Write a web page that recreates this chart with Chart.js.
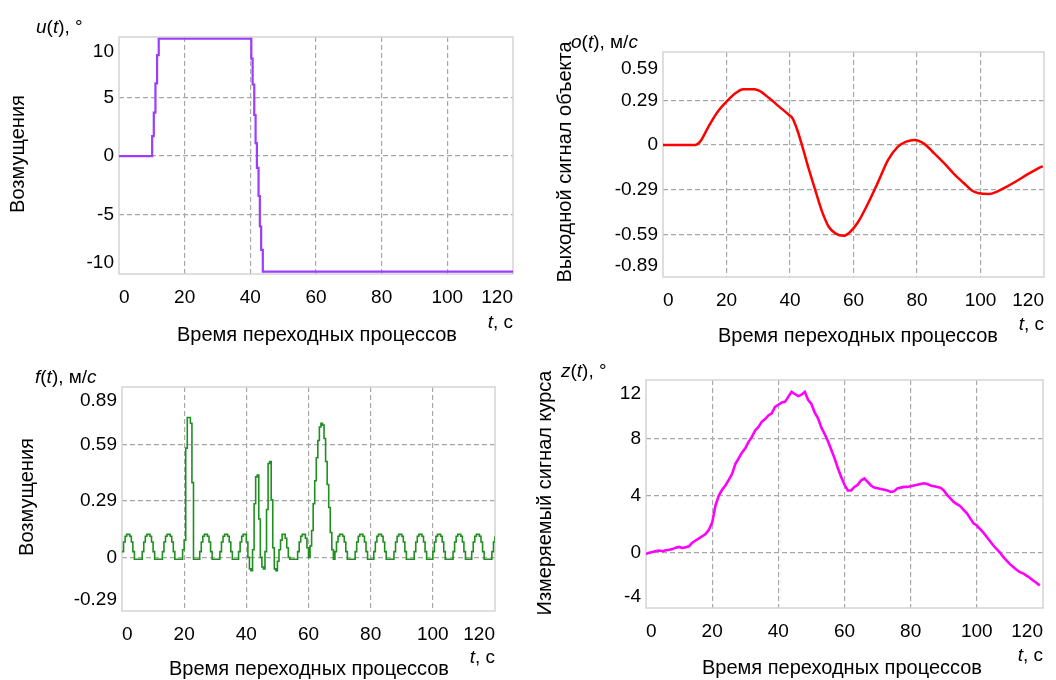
<!DOCTYPE html>
<html>
<head>
<meta charset="utf-8">
<script src="https://cdn.jsdelivr.net/npm/chart.js@4.4.1/dist/chart.umd.min.js"></script>
<style>
  html, body { margin: 0; padding: 0; background: #fff; }
  #wrap { position: relative; width: 1056px; height: 680px; overflow: hidden; }
  canvas { position: absolute; left: 0; top: 0; }
</style>
</head>
<body>
<div id="wrap">
  <canvas id="c1" width="1056" height="680"></canvas>
  <canvas id="c2" width="1056" height="680"></canvas>
  <canvas id="c3" width="1056" height="680"></canvas>
  <canvas id="c4" width="1056" height="680"></canvas>
</div>
<script>
// ---- data ----
const xTicks = [0, 20, 40, 60, 80, 100, 120];
const xTickLabels = ["0", "20", "40", "60", "80", "100", "120"];

// u(t), degrees (stepped)
const uTime  = [0, 10.1, 10.6, 11.1, 11.6, 12.1, 40.3, 40.7, 41.2, 41.6, 42.0, 42.5, 42.9, 43.3, 43.8, 120];
const uValue = [0, 1.7, 3.7, 6.2, 8.6, 10, 8.3, 6.1, 3.5, 1.1, -1.0, -3.4, -6.0, -8.0, -9.85, -9.85];
const uTicks = [10, 5, 0, -5, -10];
const uTickLabels = ["10", "5", "0", "-5", "-10"];

// o(t), m/s
const oTime  = [0, 10.1, 11.7, 14.3, 16.9, 20.0, 23.1, 25.2, 28.8, 30.4, 33.5, 36.6, 39.7, 40.8, 42.3, 43.9,
                46.0, 48.1, 50.1, 52.2, 54.3, 56.9, 59.0, 61.5, 64.6, 67.8, 70.9, 74.0, 76.6, 79.2, 82.3,
                85.4, 88.6, 91.7, 94.8, 97.4, 99.5, 102.6, 105.2, 108.3, 111.4, 114.5, 117.6, 119.6];
const oValue = [0, 0, 0.022, 0.12, 0.21, 0.286, 0.346, 0.368, 0.368, 0.357, 0.308, 0.253, 0.198, 0.176, 0.099, -0.011,
                -0.165, -0.308, -0.44, -0.54, -0.584, -0.6, -0.573, -0.507, -0.385, -0.242, -0.099, -0.011, 0.022, 0.033, 0.007,
                -0.055, -0.121, -0.192, -0.253, -0.302, -0.319, -0.324, -0.308, -0.275, -0.238, -0.198, -0.161, -0.14];
const oTicks = [0.59, 0.295, 0, -0.295, -0.59, -0.885];
const oTickLabels = ["0.59", "0.29", "0", "-0.29", "-0.59", "-0.89"];

// f(t), m/s (stepped, 0.5 s samples)
const fTime = [
  0, 0.5, 1, 1.5, 2, 2.5, 3, 3.5, 4, 4.5,
  5, 5.5, 6, 6.5, 7, 7.5, 8, 8.5, 9, 9.5,
  10, 10.5, 11, 11.5, 12, 12.5, 13, 13.5, 14, 14.5,
  15, 15.5, 16, 16.5, 17, 17.5, 18, 18.5, 19, 19.5,
  20, 20.5, 21, 21.5, 22, 22.5, 23, 23.5, 24, 24.5,
  25, 25.5, 26, 26.5, 27, 27.5, 28, 28.5, 29, 29.5,
  30, 30.5, 31, 31.5, 32, 32.5, 33, 33.5, 34, 34.5,
  35, 35.5, 36, 36.5, 37, 37.5, 38, 38.5, 39, 39.5,
  40, 40.5, 41, 41.5, 42, 42.5, 43, 43.5, 44, 44.5,
  45, 45.5, 46, 46.5, 47, 47.5, 48, 48.5, 49, 49.5,
  50, 50.5, 51, 51.5, 52, 52.5, 53, 53.5, 54, 54.5,
  55, 55.5, 56, 56.5, 57, 57.5, 58, 58.5, 59, 59.5,
  60, 60.5, 61, 61.5, 62, 62.5, 63, 63.5, 64, 64.5,
  65, 65.5, 66, 66.5, 67, 67.5, 68, 68.5, 69, 69.5,
  70, 70.5, 71, 71.5, 72, 72.5, 73, 73.5, 74, 74.5,
  75, 75.5, 76, 76.5, 77, 77.5, 78, 78.5, 79, 79.5,
  80, 80.5, 81, 81.5, 82, 82.5, 83, 83.5, 84, 84.5,
  85, 85.5, 86, 86.5, 87, 87.5, 88, 88.5, 89, 89.5,
  90, 90.5, 91, 91.5, 92, 92.5, 93, 93.5, 94, 94.5,
  95, 95.5, 96, 96.5, 97, 97.5, 98, 98.5, 99, 99.5,
  100, 100.5, 101, 101.5, 102, 102.5, 103, 103.5, 104, 104.5,
  105, 105.5, 106, 106.5, 107, 107.5, 108, 108.5, 109, 109.5,
  110, 110.5, 111, 111.5, 112, 112.5, 113, 113.5, 114, 114.5,
  115, 115.5, 116, 116.5, 117, 117.5, 118, 118.5, 119, 119.5,
  120
];
const fValue = [
  0.03, 0.08, 0.11, 0.12, 0.12, 0.11, 0.08, 0.03, -0.01, -0.01,
  -0.01, -0.01, -0.01, 0.03, 0.08, 0.11, 0.12, 0.12, 0.11, 0.08,
  0.03, -0.01, -0.01, -0.01, -0.01, -0.01, 0.03, 0.08, 0.11, 0.12,
  0.12, 0.11, 0.08, 0.03, -0.01, -0.01, -0.01, -0.01, -0.01, 0.04,
  0.09, 0.57, 0.73, 0.73, 0.70, 0.39, -0.01, -0.01, -0.01, -0.01,
  0.03, 0.08, 0.11, 0.12, 0.12, 0.11, 0.08, 0.03, -0.01, -0.01,
  -0.01, -0.01, -0.01, 0.03, 0.08, 0.11, 0.12, 0.12, 0.11, 0.08,
  0.03, -0.01, -0.01, -0.01, -0.01, 0.03, 0.08, 0.11, 0.12, 0.12,
  0.08, 0.0, -0.06, -0.07, 0.04, 0.28, 0.42, 0.43, 0.20, 0.0,
  -0.05, -0.06, 0.03, 0.25, 0.49, 0.50, 0.30, 0.05, -0.06, -0.07,
  -0.02, 0.04, 0.09, 0.12, 0.12, 0.10, 0.05, 0.0, -0.01, -0.01,
  -0.01, -0.01, -0.01, 0.03, 0.08, 0.11, 0.12, 0.12, 0.10, 0.05,
  0.0, 0.06, 0.14, 0.28, 0.40, 0.52, 0.61, 0.68, 0.70, 0.69,
  0.62, 0.50, 0.38, 0.26, 0.13, 0.04, -0.01, 0.03, 0.08, 0.11,
  0.12, 0.12, 0.11, 0.08, 0.03, -0.01, -0.01, -0.01, -0.01, -0.01,
  0.03, 0.08, 0.11, 0.12, 0.12, 0.11, 0.08, 0.03, -0.01, -0.01,
  -0.01, -0.01, 0.03, 0.08, 0.11, 0.12, 0.12, 0.11, 0.08, 0.03,
  -0.01, -0.01, -0.01, -0.01, -0.01, 0.03, 0.08, 0.11, 0.12, 0.12,
  0.11, 0.08, 0.03, -0.01, -0.01, -0.01, -0.01, -0.01, 0.03, 0.08,
  0.11, 0.12, 0.12, 0.11, 0.08, 0.03, -0.01, -0.01, -0.01, -0.01,
  0.03, 0.08, 0.11, 0.12, 0.12, 0.11, 0.08, 0.03, -0.01, -0.01,
  -0.01, -0.01, -0.01, 0.03, 0.08, 0.11, 0.12, 0.12, 0.11, 0.08,
  0.03, -0.01, -0.01, -0.01, -0.01, 0.03, 0.08, 0.11, 0.12, 0.12,
  0.11, 0.08, 0.03, -0.01, -0.01, -0.01, -0.01, -0.01, 0.03, 0.08,
  0.11
];
const fTicks = [0.885, 0.59, 0.295, 0, -0.295];
const fTickLabels = ["0.89", "0.59", "0.29", "0", "-0.29"];

// z(t), degrees
const zTime = [
  0, 1, 2, 3, 4, 5, 6, 7, 8, 9,
  10, 11, 12, 13, 14, 15, 16, 17, 18, 19,
  20, 21, 22, 23, 24, 25, 26, 27, 28, 29,
  30, 31, 32, 33, 34, 35, 36, 37, 38, 39,
  40, 41, 42, 43, 44, 45, 46, 47, 48, 49,
  50, 51, 52, 53, 54, 55, 56, 57, 58, 59,
  60, 61, 62, 63, 64, 65, 66, 67, 68, 69,
  70, 71, 72, 73, 74, 75, 76, 77, 78, 79,
  80, 81, 82, 83, 84, 85, 86, 87, 88, 89,
  90, 91, 92, 93, 94, 95, 96, 97, 98, 99,
  100, 101, 102, 103, 104, 105, 106, 107, 108, 109,
  110, 111, 112, 113, 114, 115, 116, 117, 118, 119
];
const zValue = [
  -0.1, 0.0, 0.05, 0.12, 0.15, 0.1, 0.17, 0.2, 0.25, 0.35,
  0.4, 0.33, 0.38, 0.45, 0.7, 0.85, 1.0, 1.15, 1.3, 1.6,
  2.1, 3.3, 4.0, 4.4, 4.7, 5.1, 5.5, 6.2, 6.6, 7.0,
  7.3, 7.75, 8.1, 8.55, 8.8, 9.15, 9.35, 9.6, 9.75, 10.2,
  10.35, 10.5, 10.55, 10.9, 11.25, 11.1, 10.95, 11.05, 11.25, 10.7,
  10.4, 9.8, 9.4, 8.75, 8.3, 7.8, 7.2, 6.6, 5.9, 5.3,
  4.75, 4.35, 4.35, 4.6, 4.75, 5.05, 5.2, 4.95, 4.7, 4.55,
  4.5, 4.45, 4.4, 4.35, 4.25, 4.3, 4.5, 4.55, 4.6, 4.6,
  4.65, 4.7, 4.75, 4.8, 4.85, 4.8, 4.7, 4.65, 4.6, 4.55,
  4.35, 4.05, 3.8, 3.55, 3.4, 3.25, 3.0, 2.75, 2.4, 2.05,
  1.9, 1.65, 1.4, 1.1, 0.8, 0.5, 0.25, 0.0, -0.3, -0.55,
  -0.8, -1.0, -1.2, -1.36, -1.45, -1.6, -1.75, -1.95, -2.1, -2.3
];
const zTicks = [12, 8, 4, 0, -4];
const zTickLabels = ["12", "8", "4", "0", "-4"];

// ---- drawing ----
const FONT = '"Liberation Sans", Arial, sans-serif';
Chart.defaults.font.family = FONT;
Chart.defaults.font.size = 19;
Chart.defaults.color = "#000";

const X_AXIS_H = 40;

function fontFor(italic, size) {
  return (italic ? "italic " : "") + (size || 19) + "px " + FONT;
}

function drawRich(ctx, parts, x, y, align) {
  let w = 0;
  parts.forEach(p => { ctx.font = fontFor(p[1]); w += ctx.measureText(p[0]).width; });
  let cx = align === "right" ? x - w : (align === "center" ? x - w / 2 : x);
  ctx.textAlign = "left";
  ctx.textBaseline = "middle";
  parts.forEach(p => {
    ctx.font = fontFor(p[1]);
    ctx.fillText(p[0], cx, y);
    cx += ctx.measureText(p[0]).width;
  });
}

const decor = {
  id: "decor",
  beforeDatasetsDraw(chart, args, o) {
    const a = chart.chartArea, ctx = chart.ctx;
    ctx.save();
    ctx.strokeStyle = "#d4d4d4";
    ctx.lineWidth = 1.5;
    ctx.strokeRect(a.left, a.top, a.right - a.left, a.bottom - a.top);
    ctx.restore();
  },
  afterDraw(chart, args, o) {
    const ctx = chart.ctx, a = chart.chartArea, ys = chart.scales.y;
    ctx.save();
    ctx.fillStyle = "#000";
    ctx.font = fontFor(false);
    ctx.textAlign = "right";
    ctx.textBaseline = "middle";
    const n = o.yTicks.length;
    o.yTicks.forEach((v, i) => {
      let y = ys.getPixelForValue(v);
      if (i === 0) y = Math.max(y, a.top) + 13;
      if (i === n - 1) y = Math.min(y, a.bottom) - 11;
      ctx.fillText(o.yLabels[i], a.left - 5, y);
    });
    // unit label above the y axis
    drawRich(ctx, o.unit, o.unitX, o.unitY, "left");
    // t, c
    drawRich(ctx, [["t", true], [", с", false]], a.right, o.tY, "right");
    // x title
    ctx.font = fontFor(false, 20);
    ctx.textAlign = "center";
    ctx.fillText("Время переходных процессов", o.xTitleX, o.xTitleY);
    // y title
    ctx.translate(o.yTitleX, o.yTitleY);
    ctx.rotate(-Math.PI / 2);
    ctx.fillText(o.yTitle, 0, 0);
    ctx.restore();
  }
};

function toPoints(ts, vs) {
  return ts.map((t, i) => ({ x: t, y: vs[i] }));
}

function makeChart(id, cfg) {
  const nY = cfg.yTicks.length;
  return new Chart(document.getElementById(id), {
    type: "line",
    data: {
      datasets: [{
        data: toPoints(cfg.time, cfg.value),
        borderColor: cfg.color,
        borderWidth: cfg.width,
        pointRadius: 0,
        stepped: cfg.stepped,
        cubicInterpolationMode: cfg.smooth ? "monotone" : "default",
        fill: false
      }]
    },
    options: {
      responsive: false,
      animation: false,
      devicePixelRatio: 1,
      layout: { padding: { left: cfg.area[0], top: cfg.area[1], right: 1056 - cfg.area[2], bottom: 680 - cfg.area[3] - X_AXIS_H } },
      plugins: {
        legend: { display: false },
        tooltip: { enabled: false },
        decor: cfg.decor
      },
      scales: {
        x: {
          type: "linear",
          min: 0,
          max: 120,
          afterBuildTicks: s => { s.ticks = xTicks.map(v => ({ value: v })); },
          afterFit: s => { s.height = X_AXIS_H; },
          border: { display: false, dash: [5, 3] },
          grid: {
            drawTicks: false,
            lineWidth: 1.2,
            color: c => (c.index === 0 || c.index === xTicks.length - 1) ? "rgba(0,0,0,0)" : "#a8a8a8"
          },
          ticks: {
            align: "inner",
            padding: 12,
            autoSkip: false,
            maxRotation: 0,
            color: "#000",
            callback: (v, i) => xTickLabels[i]
          }
        },
        y: {
          type: "linear",
          min: cfg.yMin,
          max: cfg.yMax,
          afterBuildTicks: s => { s.ticks = cfg.yTicks.map(v => ({ value: v })); },
          afterFit: s => { s.width = 0; },
          border: { display: false, dash: [5, 3] },
          grid: {
            drawTicks: false,
            lineWidth: 1.2,
            color: c => (c.index === 0 || c.index === nY - 1) ? "rgba(0,0,0,0)" : "#a8a8a8"
          },
          ticks: { display: false }
        }
      }
    },
    plugins: [decor]
  });
}

makeChart("c1", {
  time: uTime, value: uValue, color: "#9b3cff", width: 2.2, stepped: true, smooth: false,
  area: [119, 37, 513, 274], yMin: -10.05, yMax: 10.15, yTicks: uTicks,
  decor: {
    yTicks: uTicks, yLabels: uTickLabels,
    unit: [["u", true], ["(", false], ["t", true], ["), °", false]], unitX: 36, unitY: 28,
    tY: 323, xTitleX: 317, xTitleY: 335, yTitle: "Возмущения", yTitleX: 18, yTitleY: 154
  }
});
makeChart("c2", {
  time: oTime, value: oValue, color: "#ff0000", width: 2.5, stepped: false, smooth: true,
  area: [663, 52, 1049, 277], yMin: -0.872, yMax: 0.614, yTicks: oTicks,
  decor: {
    yTicks: oTicks, yLabels: oTickLabels,
    unit: [["o", true], ["(", false], ["t", true], ["), м/", false], ["с", true]], unitX: 571, unitY: 43,
    tY: 325, xTitleX: 858, xTitleY: 336, yTitle: "Выходной сигнал объекта", yTitleX: 565, yTitleY: 162
  }
});
makeChart("c3", {
  time: fTime, value: fValue, color: "#1f8f1f", width: 1.6, stepped: true, smooth: false,
  area: [122, 387, 495, 611], yMin: -0.28, yMax: 0.889, yTicks: fTicks,
  decor: {
    yTicks: fTicks, yLabels: fTickLabels,
    unit: [["f", true], ["(", false], ["t", true], ["), м/", false], ["с", true]], unitX: 35, unitY: 378,
    tY: 658, xTitleX: 309, xTitleY: 669, yTitle: "Возмущения", yTitleX: 27, yTitleY: 497
  }
});
makeChart("c4", {
  time: zTime, value: zValue, color: "#ff00ff", width: 2.6, stepped: false, smooth: false,
  area: [646, 380, 1043, 608], yMin: -3.87, yMax: 12.08, yTicks: zTicks,
  decor: {
    yTicks: zTicks, yLabels: zTickLabels,
    unit: [["z", true], ["(", false], ["t", true], ["), °", false]], unitX: 561, unitY: 372,
    tY: 656, xTitleX: 842, xTitleY: 668, yTitle: "Измеряемый сигнал курса", yTitleX: 545, yTitleY: 493
  }
});
</script>
</body>
</html>
